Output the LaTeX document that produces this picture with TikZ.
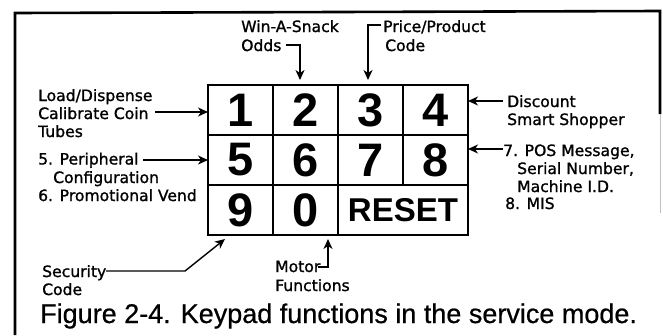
\documentclass[tikz,border=0pt]{standalone}
\usepackage{fontspec}
\setmainfont{DejaVu Sans}
\newfontfamily\lblfont{DejaVu Sans}[FakeBold=1.2]
\newfontfamily\capfont{Liberation Sans}[FakeBold=0.6]
\newfontfamily\keyfont{Liberation Sans}[BoldFont=Liberation Sans Bold]
\usetikzlibrary{arrows.meta}
\tikzset{
  cell/.style={draw, line width=1.8pt, minimum width=65pt, minimum height=50pt, inner sep=0pt, outer sep=0pt, font=\keyfont\bfseries\fontsize{47}{47}\selectfont},
  lbl/.style={anchor=base west, inner sep=0pt, font=\lblfont\fontsize{15.6}{18}\selectfont},
  arr/.style={line width=1.4pt, -{Stealth[length=10pt,width=9pt,inset=3pt]}},
  frame/.style={line width=2.6pt}
}
\begin{document}
\begin{tikzpicture}[x=1pt,y=-1pt]
\useasboundingbox (0,0) rectangle (663,335);
% outer frame
\draw[frame] (15,335) -- (15,13) -- (660,11) -- (660,114);
\draw[line width=0.8pt, black!25] (660,114) -- (660,213);
% keypad
\node[cell] (k1) at (240.5,110) {1};
\node[cell] (k2) at (305.5,110) {2};
\node[cell] (k3) at (370.5,110) {3};
\node[cell] (k4) at (435.5,110) {4};
\node[cell] (k5) at (240.5,160) {5};
\node[cell] (k6) at (305.5,160) {6};
\node[cell] (k7) at (370.5,160) {7};
\node[cell] (k8) at (435.5,160) {8};
\node[cell] (k9) at (240.5,210) {9};
\node[cell] (k0) at (305.5,210) {0};
\node[cell, minimum width=130pt, font=\keyfont\bfseries\fontsize{33}{33}\selectfont] (kr) at (403,210) {RESET};
\draw[line width=2.8pt] (k1.north west) rectangle (kr.south east);
% labels
\node[lbl] (ld1) at (38,101) {Load/Dispense};
\node[lbl] (ld2) at (38,119) {Calibrate Coin};
\node[lbl] (ld3) at (38,137) {Tubes};
\node[lbl] (pe1) at (38,164.5) {5. Peripheral};
\node[lbl] (pe2) at (53,183) {Configuration};
\node[lbl] (pe3) at (38,201) {6. Promotional Vend};
\node[lbl] (ws1) at (241,32) {Win-A-Snack};
\node[lbl] (ws2) at (241,51) {Odds};
\node[lbl] (pp1) at (383,32) {Price/Product};
\node[lbl] (pp2) at (385,51) {Code};
\node[lbl] (dc1) at (507,107) {Discount};
\node[lbl] (dc2) at (507,125) {Smart Shopper};
\node[lbl] (po1) at (503,156) {7. POS Message,};
\node[lbl] (po2) at (517,174) {Serial Number,};
\node[lbl] (po3) at (517,192) {Machine I.D.};
\node[lbl] (po4) at (505,209) {8. MIS};
\node[lbl] (sc1) at (42,277) {Security};
\node[lbl] (sc2) at (42,295) {Code};
\node[lbl] (mo1) at (275,272) {Motor};
\node[lbl] (mo2) at (275,291) {Functions};
\node[anchor=base west, inner sep=0pt, font=\capfont\fontsize{27}{27}\selectfont] (cap) at (40,323) {Figure 2-4. Keypad functions in the service mode.};
% connectors
\coordinate (ldA) at (155,112);
\coordinate (peA) at (143,160);
\coordinate (wsA) at (286,45);
\coordinate (wsB) at (300,80);
\coordinate (ppA) at (381,25);
\coordinate (ppB) at (368,80);
\coordinate (dcA) at (503,101);
\coordinate (poA) at (503,149);
\coordinate (scA) at (106,271);
\coordinate (scB) at (185,271);
\coordinate (scC) at (225,239);
\coordinate (moA) at (318,267);
\coordinate (moB) at (328,239);
\draw[arr] (ldA) -- (ldA -| k1.west);
\draw[arr] (peA) -- (peA -| k5.west);
\draw[arr] (wsA) -| (wsB);
\draw[arr] (ppA) -| (ppB);
\draw[arr] (dcA) -- (dcA -| k4.east);
\draw[arr] (poA) -- (poA -| k8.east);
\draw[arr] (scA) -- (scB) -- (scC);
\draw[arr] (moA) -| (moB);
\end{tikzpicture}
\end{document}
